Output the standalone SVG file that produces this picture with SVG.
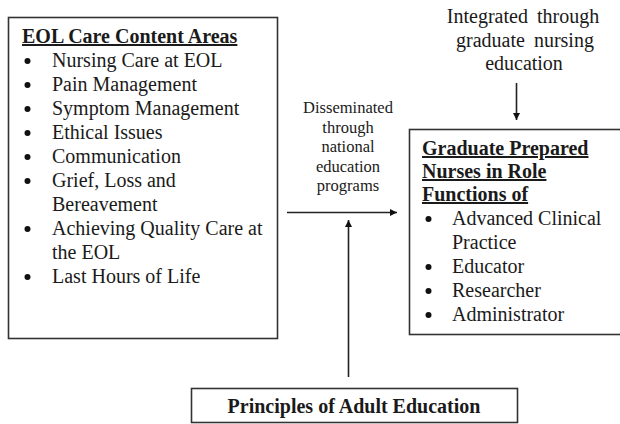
<svg xmlns="http://www.w3.org/2000/svg" width="620" height="424" viewBox="0 0 620 424">
<defs>
<style>
.box{fill:#fff;stroke:#333;stroke-width:1.6}
text{font-family:'Liberation Serif','Times New Roman',Times,'DejaVu Serif',serif;font-size:20px;fill:#1a1a1a}
.h{font-weight:bold;text-decoration:underline}
.b{font-weight:bold}
.s{font-size:16.5px;text-anchor:middle}
.c{text-anchor:middle}
.ln{stroke:#222;stroke-width:1.6;fill:none}
.dot{fill:#111}
</style>
<marker id="ah" viewBox="0 0 10 10" refX="10" refY="5" markerWidth="7" markerHeight="7" markerUnits="userSpaceOnUse" orient="auto">
<path d="M0,0 L10,5 L0,10 z" fill="#111"/>
</marker>
</defs>
<rect width="620" height="424" fill="#fff"/>
<g id="eol-box">
<rect class="box" x="8.5" y="17.5" width="269" height="321"/>
<text class="h" x="22" y="43">EOL Care Content Areas</text>
<g class="dot">
<circle cx="27.5" cy="61" r="3"/><circle cx="27.5" cy="85" r="3"/><circle cx="27.5" cy="109" r="3"/><circle cx="27.5" cy="133" r="3"/><circle cx="27.5" cy="157" r="3"/><circle cx="27.5" cy="181" r="3"/><circle cx="27.5" cy="229" r="3"/><circle cx="27.5" cy="277" r="3"/>
</g>
<text x="52" y="67">Nursing Care at EOL</text>
<text x="52" y="91">Pain Management</text>
<text x="52" y="115">Symptom Management</text>
<text x="52" y="139">Ethical Issues</text>
<text x="52" y="163">Communication</text>
<text x="52" y="187">Grief, Loss and</text>
<text x="52" y="211">Bereavement</text>
<text x="52" y="235">Achieving Quality Care at</text>
<text x="52" y="259">the EOL</text>
<text x="52" y="283">Last Hours of Life</text>
</g>
<g id="grad-box">
<rect class="box" x="409.5" y="129.5" width="240" height="205"/>
<text class="h" x="422" y="155">Graduate Prepared</text>
<text class="h" x="422" y="178">Nurses in Role</text>
<text class="h" x="422" y="201">Functions of</text>
<g class="dot">
<circle cx="428.5" cy="219" r="3"/><circle cx="428.5" cy="267" r="3"/><circle cx="428.5" cy="291" r="3"/><circle cx="428.5" cy="315" r="3"/>
</g>
<text x="452" y="225">Advanced Clinical</text>
<text x="452" y="249">Practice</text>
<text x="452" y="273">Educator</text>
<text x="452" y="297">Researcher</text>
<text x="452" y="321">Administrator</text>
</g>
<g id="adult-box">
<rect class="box" x="191.5" y="388.5" width="326" height="34"/>
<text class="b c" x="354" y="413">Principles of Adult Education</text>
</g>
<g id="integrated-label">
<text class="c" x="523" y="23" word-spacing="4">Integrated through</text>
<text class="c" x="525" y="47" word-spacing="4">graduate nursing</text>
<text class="c" x="524" y="70">education</text>
</g>
<g id="disseminated-label">
<text class="s" x="348" y="113">Disseminated</text>
<text class="s" x="348" y="132.5">through</text>
<text class="s" x="348" y="152">national</text>
<text class="s" x="348" y="171.5">education</text>
<text class="s" x="348" y="191">programs</text>
</g>
<g id="connectors">
<line class="ln" x1="287" y1="212.5" x2="397" y2="212.5" marker-end="url(#ah)"/>
<line class="ln" x1="348.5" y1="377" x2="348.5" y2="220" marker-end="url(#ah)"/>
<line class="ln" x1="516.5" y1="83" x2="516.5" y2="120" marker-end="url(#ah)"/>
</g>
</svg>
